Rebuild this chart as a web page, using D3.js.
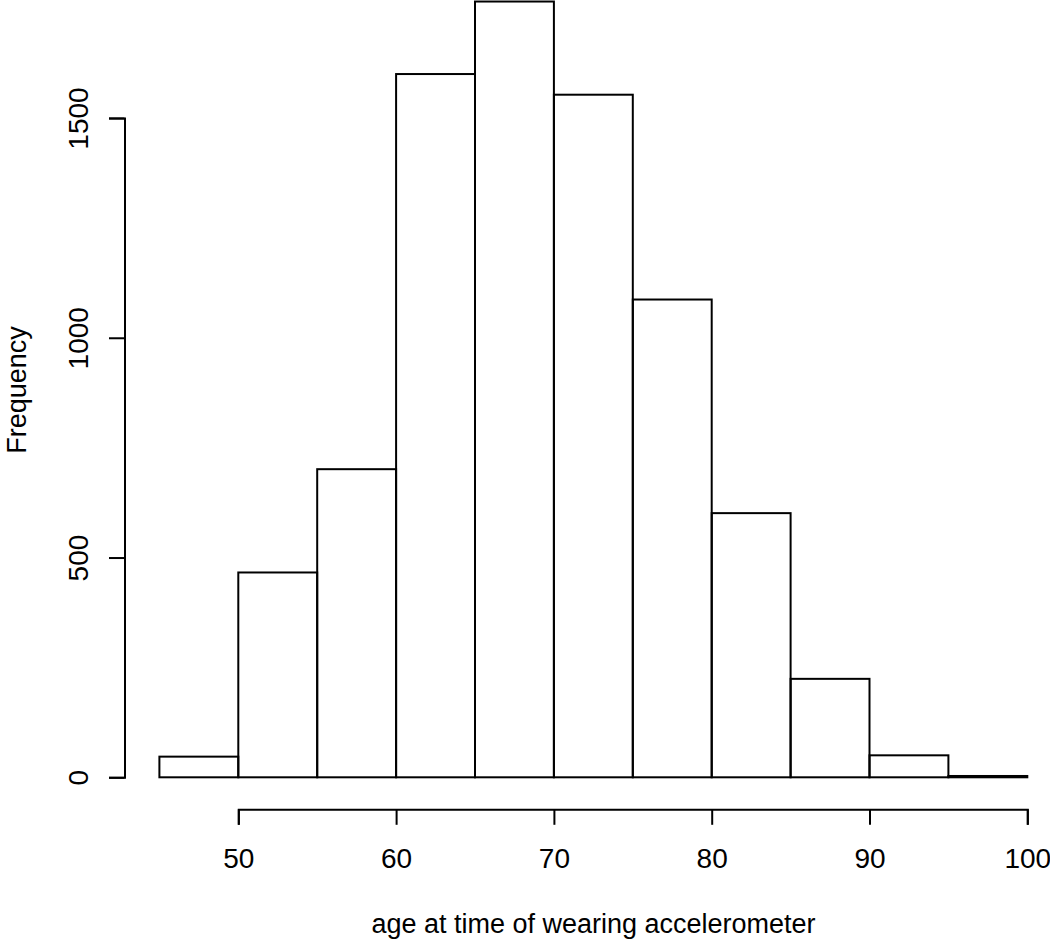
<!DOCTYPE html>
<html>
<head>
<meta charset="utf-8">
<script src="https://cdn.jsdelivr.net/npm/d3@7/dist/d3.min.js"></script>
<style>
  body { margin: 0; background: #fff; }
  svg { display: block; font-family: "Liberation Sans", Arial, sans-serif; }
</style>
</head>
<body>
<svg></svg>
<script>
// histogram breaks and counts (ages 45-100, 5 year bins)
var binStarts = [45, 50, 55, 60, 65, 70, 75, 80, 85, 90, 95];
var binWidth = 5;
var counts = [47, 466, 701, 1600, 1765, 1553, 1087, 601, 224, 50, 3];

var xTicks = [50, 60, 70, 80, 90, 100];
var yTicks = [0, 500, 1000, 1500];

var xLabel = "age at time of wearing accelerometer";
var yLabel = "Frequency";

var drawGraph = function() {
  var screen = { width: 1050, height: 940 };

  var svg = d3.select("svg")
              .attr("width", screen.width)
              .attr("height", screen.height);

  var xScale = d3.scaleLinear()
                 .domain([50, 100])
                 .range([238.3, 1027.3]);

  var yScale = d3.scaleLinear()
                 .domain([0, 1500])
                 .range([777.3, 118]);

  var axisLeftX = 124.5;
  var axisBottomY = 809.3;

  // bars
  svg.append("g")
     .classed("bars", true)
     .selectAll("rect")
     .data(counts)
     .enter()
     .append("rect")
     .attr("x", function(d, i) { return xScale(binStarts[i]); })
     .attr("y", function(d) { return yScale(d); })
     .attr("width", function(d, i) { return xScale(binStarts[i] + binWidth) - xScale(binStarts[i]); })
     .attr("height", function(d) { return yScale(0) - yScale(d); })
     .attr("fill", "none")
     .attr("stroke", "#000")
     .attr("stroke-width", 2);

  // x axis
  var xAxis = d3.axisBottom(xScale)
                .tickValues(xTicks)
                .tickSizeOuter(0)
                .tickSize(15.5)
                .tickFormat(d3.format("d"));

  var gx = svg.append("g")
              .attr("transform", "translate(0," + axisBottomY + ")")
              .call(xAxis);
  gx.select(".domain").attr("stroke-width", 2);
  gx.selectAll(".tick line").attr("stroke-width", 2);
  gx.selectAll(".tick text")
    .attr("y", 58.7)
    .attr("dy", null)
    .attr("font-size", 28)
    .attr("font-family", null)
    .attr("fill", "#000");

  // y axis
  var yAxis = d3.axisLeft(yScale)
                .tickValues(yTicks)
                .tickSizeOuter(0)
                .tickSize(15.5)
                .tickFormat(d3.format("d"));

  var gy = svg.append("g")
              .attr("transform", "translate(" + axisLeftX + ",0)")
              .call(yAxis);
  gy.select(".domain").attr("stroke-width", 2);
  gy.selectAll(".tick line").attr("stroke-width", 2);
  gy.selectAll(".tick text")
    .attr("x", null)
    .attr("dy", null)
    .attr("text-anchor", "middle")
    .attr("transform", "translate(-36.5,0) rotate(-90)")
    .attr("font-size", 28)
    .attr("font-family", null)
    .attr("fill", "#000");

  svg.selectAll(".domain, .tick line").attr("stroke", "#000");

  // axis titles
  svg.append("text")
     .attr("x", 593.5)
     .attr("y", 933)
     .attr("text-anchor", "middle")
     .attr("font-size", 27)
     .text(xLabel);

  svg.append("text")
     .attr("transform", "translate(26,390) rotate(-90)")
     .attr("text-anchor", "middle")
     .attr("font-size", 27)
     .text(yLabel);
};

drawGraph();
</script>
</body>
</html>
